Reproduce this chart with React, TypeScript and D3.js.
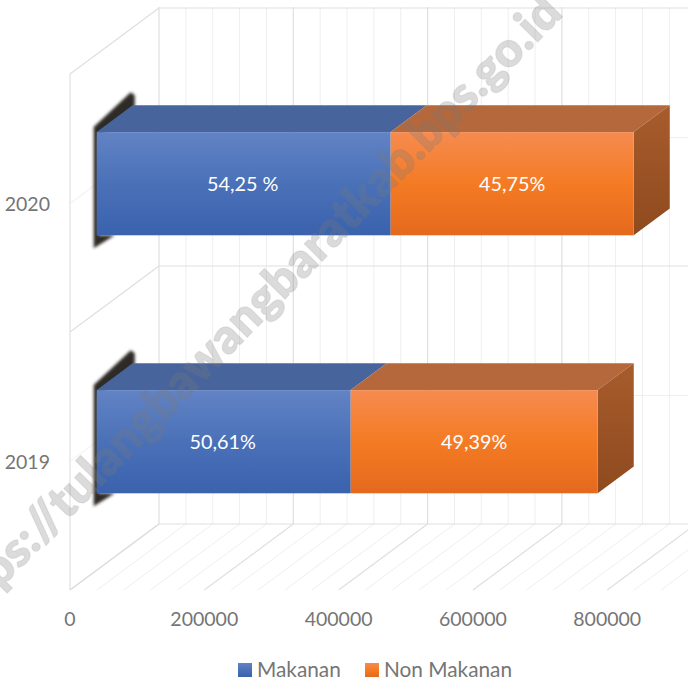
import React from "react";
import * as d3 from "d3";

const years = ["2020", "2019"];
const makanan = [437800, 378300];
const nonMakanan = [361900, 367800];
const labelsMakanan = ["54,25 %", "50,61%"];
const labelsNon = ["45,75%", "49,39%"];
const majorTicks = [0, 200000, 400000, 600000, 800000, 1000000];
const tickLabels = ["0", "200000", "400000", "600000", "800000"];
const minorTicks = d3.range(0, 1000001, 40000);
const seriesNames = ["Makanan", "Non Makanan"];

const W = 688, H = 682;
const DX = 89, DY = -66;
const x = d3.scaleLinear().domain([0, 1000000]).range([70, 741.5]);
const y = d3.scaleBand().domain(years).range([74.5, 590.5]);
const px = (v: number, d: number) => x(v) + d * DX;
const py = (yy: number, d: number) => yy + d * DY;
const D0 = 0.3, D1 = 0.705;
const FONT = "Lato, 'Open Sans', sans-serif";

const poly = (pts: [number, number][]) => d3.line()(pts) + "Z";

function Line({ v, major }: { v: number; major: boolean }) {
  const stroke = major ? "#dfdfdf" : "#efefef";
  return (
    <g stroke={stroke} strokeWidth={major ? 1.2 : 1} fill="none">
      <line x1={px(v, 1)} x2={px(v, 1)} y1={7} y2={py(590, 1)} />
      <line x1={px(v, 1)} y1={py(590, 1)} x2={px(v, 0)} y2={590} />
    </g>
  );
}

function Bar({ i }: { i: number }) {
  const yr = years[i];
  const bh = y.bandwidth() * 0.4;
  const top = y(yr)! + y.bandwidth() / 2 - bh / 2;
  const bot = top + bh;
  const v0 = makanan[i], v1 = v0 + nonMakanan[i];
  const segs = [
    { a: 0, b: v0, front: "url(#gBlue)", topc: "#48649c", label: labelsMakanan[i] },
    { a: v0, b: v1, front: "url(#gOrange)", topc: "#b5683c", label: labelsNon[i] },
  ];
  const xl = px(0, D0), tl = py(top, D0), bl = py(bot, D0);
  const tb = py(top, D1), bb = py(bot, D1);
  return (
    <g>
      <path
        d={poly([[xl - 3, tl - 5], [px(0, D1) - 2, tb - 13], [px(0, D1) + 2, tb - 10], [px(0, D1) + 2, tb + 1], [xl + 2, tl + 6], [xl + 2, bl], [xl + 18, bl], [xl - 3, bl + 13]])}
        fill="#2d2a26"
        filter="url(#blur)"
      />
      {segs.map((s, k) => (
        <path key={"t" + k} fill={s.topc}
          d={poly([[px(s.a, D0), tl], [px(s.a, D1), tb], [px(s.b, D1), tb], [px(s.b, D0), tl]])} />
      ))}
      <path fill="url(#gSide)"
        d={poly([[px(v1, D0), tl], [px(v1, D1), tb], [px(v1, D1), bb], [px(v1, D0), bl]])} />
      {segs.map((s, k) => (
        <g key={"f" + k}>
          <rect x={px(s.a, D0)} y={tl} width={px(s.b, D0) - px(s.a, D0)} height={bl - tl} fill={s.front} />
          <text x={(px(s.a, D0) + px(s.b, D0)) / 2 + (k === 0 ? -1 : 0)} y={(tl + bl) / 2 + 7} textAnchor="middle"
            fill="#fff" fontFamily={FONT} fontSize={19.8}>{s.label}</text>
        </g>
      ))}
    </g>
  );
}

export default function App() {
  const bandLines = [74, 332, 590];
  const midLines = years.map((c) => y(c)! + y.bandwidth() / 2);
  return (
    <svg width={W} height={H} style={{ position: "fixed", left: 0, top: 0, background: "#fff" }}>
      <defs>
        <linearGradient id="gBlue" x1="0" x2="0" y1="0" y2="1">
          <stop offset="0" stopColor="#6283c4" />
          <stop offset="0.5" stopColor="#4a71b8" />
          <stop offset="1" stopColor="#3a62ad" />
        </linearGradient>
        <linearGradient id="gOrange" x1="0" x2="0" y1="0" y2="1">
          <stop offset="0" stopColor="#f68b50" />
          <stop offset="0.5" stopColor="#f47b24" />
          <stop offset="1" stopColor="#e5691d" />
        </linearGradient>
        <linearGradient id="gSide" x1="0" x2="0" y1="0" y2="1">
          <stop offset="0" stopColor="#a85c2c" />
          <stop offset="1" stopColor="#8e4a1e" />
        </linearGradient>
        <filter id="blur" x="-30%" y="-30%" width="160%" height="160%">
          <feGaussianBlur stdDeviation="1.8" />
        </filter>
      </defs>

      {minorTicks.filter((t) => !majorTicks.includes(t)).map((t) => <Line key={t} v={t} major={false} />)}
      {midLines.map((m) => (
        <g key={m} stroke="#efefef" fill="none">
          <line x1={px(0, 1)} x2={W} y1={py(m, 1)} y2={py(m, 1)} />
          <line x1={px(0, 1)} y1={py(m, 1)} x2={px(0, 0)} y2={m} />
        </g>
      ))}
      {majorTicks.map((t) => <Line key={t} v={t} major={true} />)}
      {bandLines.map((b) => (
        <g key={b} stroke="#dfdfdf" strokeWidth={1.2} fill="none">
          <line x1={px(0, 1)} x2={W} y1={py(b, 1)} y2={py(b, 1)} />
          <line x1={px(0, 1)} y1={py(b, 1)} x2={px(0, 0)} y2={b} />
        </g>
      ))}
      <line x1={x(0)} x2={x(0)} y1={74} y2={590} stroke="#dfdfdf" strokeWidth={1.2} />

      {years.map((_, i) => <Bar key={i} i={i} />).reverse()}

      {tickLabels.map((t, i) => (
        <text key={t} x={x(majorTicks[i])} y={626} textAnchor="middle" fill="#757575" fontFamily={FONT} fontSize={19.5}>{t}</text>
      ))}
      {years.map((c) => (
        <text key={c} x={50} y={y(c)! + y.bandwidth() / 2 + 7} textAnchor="end" fill="#757575" fontFamily={FONT} fontSize={19.5}>{c}</text>
      ))}

      <rect x={238} y={663} width={14} height={14} fill="url(#gBlue)" />
      <text x={257} y={677} fill="#757575" fontFamily={FONT} fontSize={20.8}>{seriesNames[0]}</text>
      <rect x={365} y={663} width={14} height={14} fill="url(#gOrange)" />
      <text x={384} y={677} fill="#757575" fontFamily={FONT} fontSize={20.8}>{seriesNames[1]}</text>

      <text transform="translate(-44,634) rotate(-45.5)" fill="#7a7a7a" fillOpacity={0.27} stroke="#7a7a7a" strokeOpacity={0.12} strokeWidth={1.2} fontFamily="Lato, sans-serif"
        fontWeight={800} fontSize={48.5}>https://tulangbawangbaratkab.bps.go.id</text>
    </svg>
  );
}
